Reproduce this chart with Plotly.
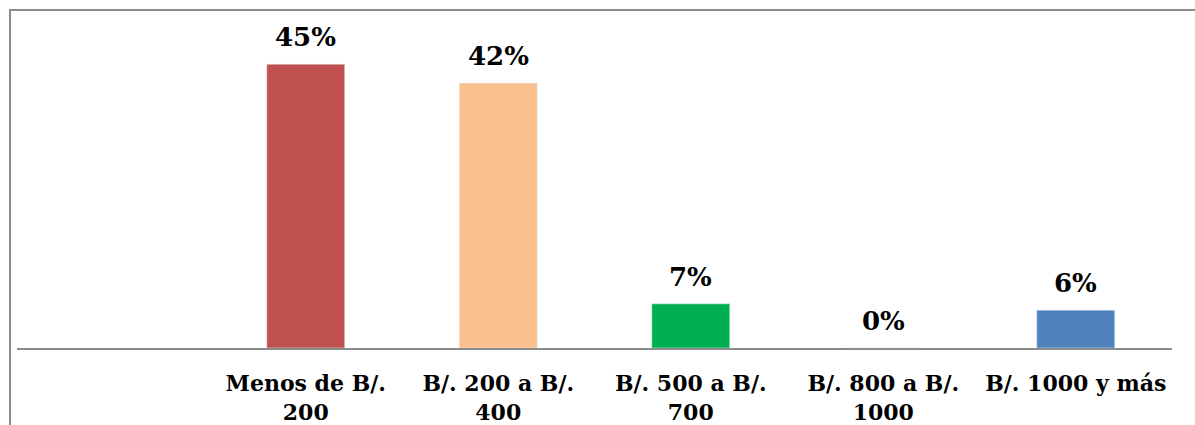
import plotly.graph_objects as go

categories = ["Menos de B/.<br>200", "B/. 200 a B/.<br>400", "B/. 500 a B/.<br>700",
              "B/. 800 a B/.<br>1000", "B/. 1000 y más"]
values = [45, 42, 7, 0, 6]
labels = ["45%", "42%", "7%", "0%", "6%"]
colors = ["#C0504D", "#FAC090", "#00B050", "#C0504D", "#4F81BD"]

W, H = 1195, 425
ml, mr, mt, mb = 17, 23, 20, 77
pw, ph = W - ml - mr, H - mt - mb
font = "DejaVu Serif"

fig = go.Figure(go.Bar(
    x=list(range(len(categories))), y=values, marker_color=colors,
    width=0.405, hoverinfo="skip",
))

for i, (v, t) in enumerate(zip(values, labels)):
    fig.add_annotation(x=i, y=v, text=t, showarrow=False, yanchor="bottom",
                       yshift=10, font=dict(family=font, size=26, color="black", weight="bold"))

fig.update_layout(
    width=W, height=H, margin=dict(l=ml, r=mr, t=mt, b=mb, autoexpand=False),
    plot_bgcolor="white", paper_bgcolor="white", showlegend=False,
    xaxis=dict(range=[-1.5, 4.5], tickmode="array", tickvals=list(range(len(categories))),
               ticktext=categories, showgrid=False, zeroline=False, automargin=False,
               showline=True, linecolor="#8c8c8c", linewidth=2, ticks="",
               tickfont=dict(family=font, size=22, color="black", weight="bold"),
               ticklabelstandoff=15),
    yaxis=dict(range=[0, 52], visible=False, showgrid=False, zeroline=False, automargin=False),
    shapes=[dict(type="rect", xref="paper", yref="paper",
                 x0=(10 - ml) / pw, x1=(W + 20 - ml) / pw,
                 y0=(H - mb - (H + 20)) / ph, y1=(H - mb - 10) / ph,
                 line=dict(color="#8c8c8c", width=2), layer="below")],
)

fig.write_html("out.html", config={"displayModeBar": False},
               post_script="document.body.style.margin='0';document.body.style.overflow='hidden';")
